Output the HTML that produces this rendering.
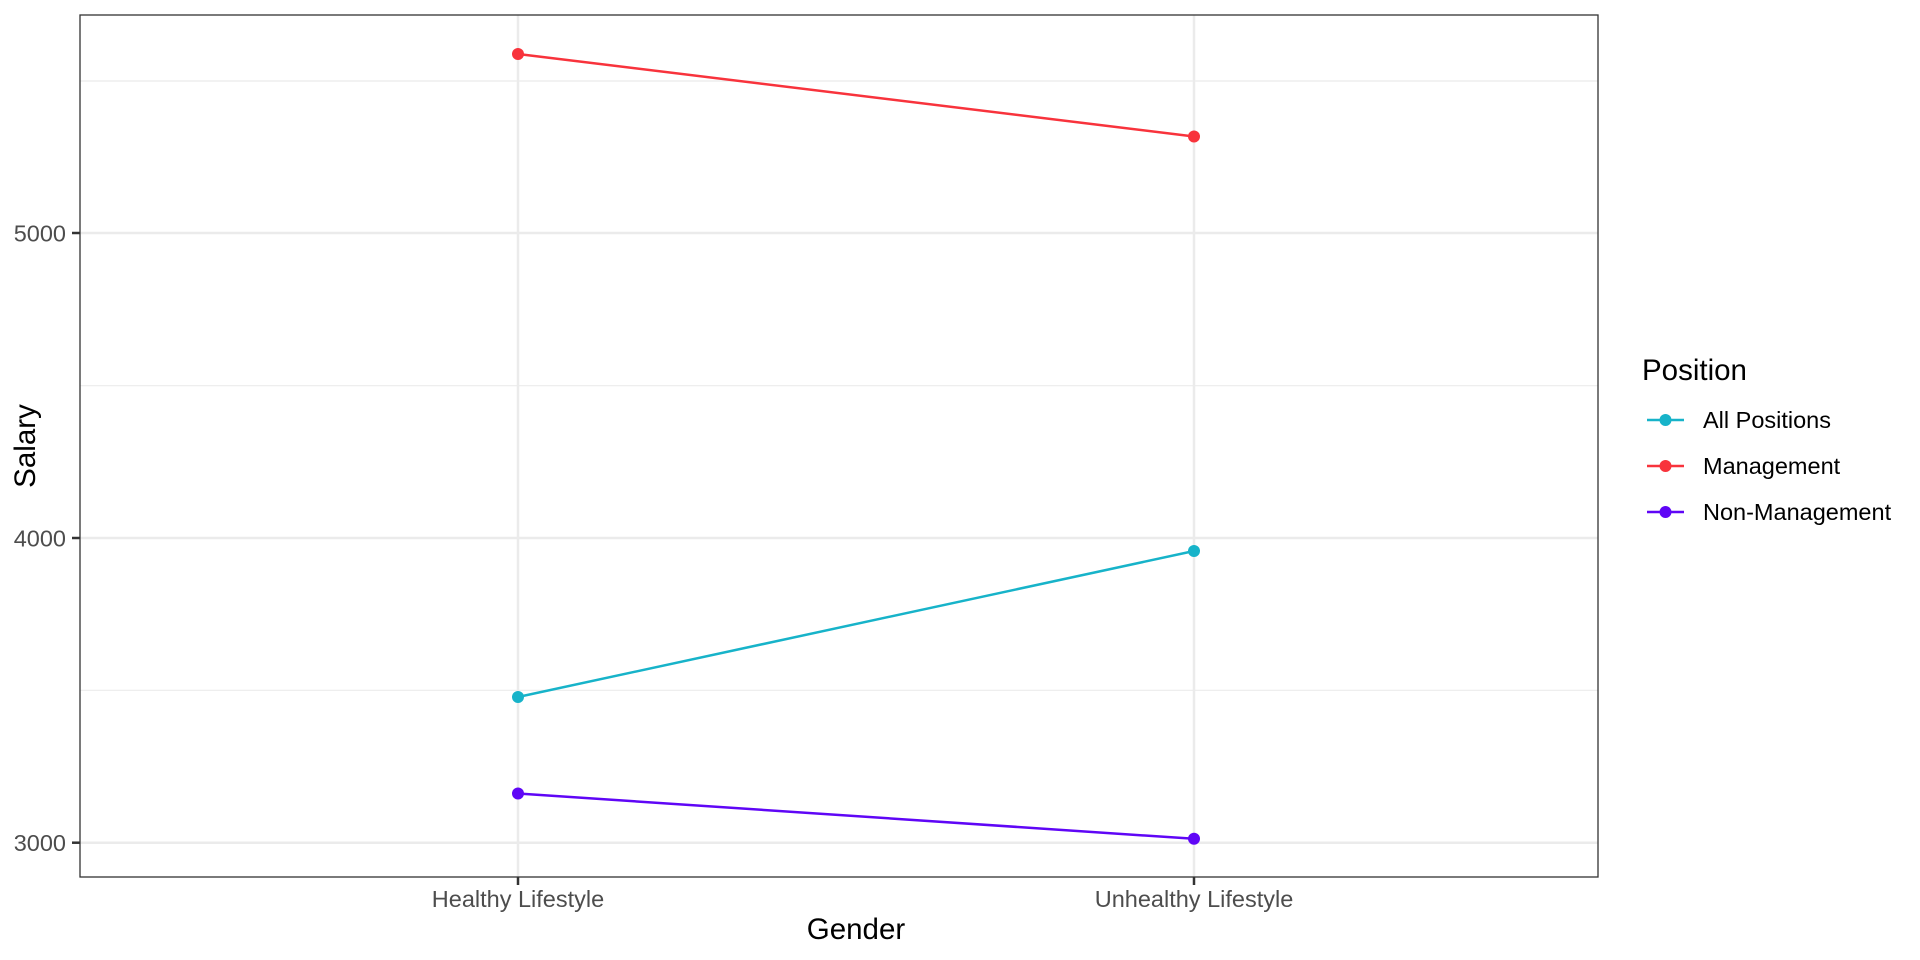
<!DOCTYPE html>
<html><head><style>body{margin:0;background:#fff}svg{display:block}</style></head><body>
<svg width="1920" height="960" xmlns="http://www.w3.org/2000/svg" font-family="Liberation Sans, sans-serif">
<rect width="1920" height="960" fill="#fff"/>
<g stroke="#ebebeb">
<line x1="80" x2="1598" y1="81" y2="81" stroke-width="1.2"/>
<line x1="80" x2="1598" y1="385.7" y2="385.7" stroke-width="1.2"/>
<line x1="80" x2="1598" y1="690.3" y2="690.3" stroke-width="1.2"/>
<line x1="80" x2="1598" y1="233" y2="233" stroke-width="2.5"/>
<line x1="80" x2="1598" y1="538" y2="538" stroke-width="2.5"/>
<line x1="80" x2="1598" y1="842.7" y2="842.7" stroke-width="2.5"/>
<line x1="518" x2="518" y1="15" y2="877" stroke-width="2.5"/>
<line x1="1194" x2="1194" y1="15" y2="877" stroke-width="2.5"/>
</g>
<g stroke-width="2.5" fill="none">
<line x1="518" y1="54" x2="1194" y2="136.5" stroke="#f8333c"/>
<line x1="518" y1="697" x2="1194" y2="551" stroke="#17b3c9"/>
<line x1="518" y1="793.5" x2="1194" y2="838.8" stroke="#5f06f6"/>
</g>
<g>
<circle cx="518" cy="54" r="6" fill="#f8333c"/><circle cx="1194" cy="136.5" r="6" fill="#f8333c"/>
<circle cx="518" cy="697" r="6" fill="#17b3c9"/><circle cx="1194" cy="551" r="6" fill="#17b3c9"/>
<circle cx="518" cy="793.5" r="6" fill="#5f06f6"/><circle cx="1194" cy="838.8" r="6" fill="#5f06f6"/>
</g>
<rect x="80" y="15" width="1518" height="862" fill="none" stroke="#333" stroke-width="1.3"/>
<g stroke="#333" stroke-width="2.5">
<line x1="72" x2="80" y1="233" y2="233"/><line x1="72" x2="80" y1="538" y2="538"/><line x1="72" x2="80" y1="842.7" y2="842.7"/>
<line x1="518" x2="518" y1="877" y2="885"/><line x1="1194" x2="1194" y1="877" y2="885"/>
</g>
<g fill="#4d4d4d" font-size="23.5" text-anchor="end">
<text x="66" y="241.5">5000</text><text x="66" y="546.5">4000</text><text x="66" y="851">3000</text>
</g>
<g fill="#4d4d4d" font-size="23.5" text-anchor="middle">
<text x="518" y="907">Healthy Lifestyle</text><text x="1194" y="907">Unhealthy Lifestyle</text>
</g>
<text x="856" y="939" font-size="29.5" text-anchor="middle" fill="#000">Gender</text>
<text transform="translate(35,446) rotate(-90)" font-size="29.5" text-anchor="middle" fill="#000">Salary</text>
<text x="1642" y="380" font-size="29.5" fill="#000">Position</text>
<g stroke-width="2.5">
<line x1="1647" x2="1684" y1="420" y2="420" stroke="#17b3c9"/><circle cx="1665.5" cy="420" r="6" fill="#17b3c9"/>
<line x1="1647" x2="1684" y1="466" y2="466" stroke="#f8333c"/><circle cx="1665.5" cy="466" r="6" fill="#f8333c"/>
<line x1="1647" x2="1684" y1="512" y2="512" stroke="#5f06f6"/><circle cx="1665.5" cy="512" r="6" fill="#5f06f6"/>
</g>
<g font-size="23.5" fill="#000">
<text x="1703" y="428">All Positions</text><text x="1703" y="474">Management</text><text x="1703" y="520">Non-Management</text>
</g>
</svg>
</body></html>
